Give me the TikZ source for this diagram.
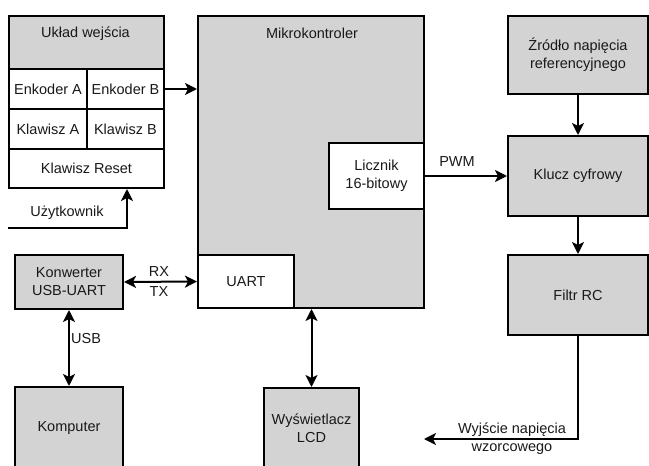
\documentclass[tikz,border=0pt]{standalone}
\usepackage{fontspec}
\setmainfont{Liberation Sans}
\usetikzlibrary{arrows.meta}
\definecolor{boxgray}{RGB}{211,211,211}
\definecolor{txt}{RGB}{25,25,25}
\begin{document}
\begin{tikzpicture}[x=1pt,y=-1pt,
  every node/.style={font=\fontsize{14.5}{18}\selectfont, text=txt},
  gbox/.style={draw, line width=2pt, fill=boxgray, inner sep=0pt, align=center, anchor=north west},
  wbox/.style={gbox, fill=white},
  lbl/.style={inner sep=0pt, align=center},
  arr/.style={line width=2pt, -{Stealth[length=12pt,width=12pt,inset=3pt]}},
  arrb/.style={line width=2pt, {Stealth[length=12pt,width=12pt,inset=3pt]}-{Stealth[length=12pt,width=12pt,inset=3pt]}}
]
\useasboundingbox (0,0) rectangle (649,466);

% input block
\node[gbox, minimum width=155pt, minimum height=53pt] (uklad) at (8,15) {};
\node[lbl] (ukladlbl) at (85.5,34) {Układ wejścia};
\node[wbox, minimum width=78pt, minimum height=40pt] (encA) at (8,68) {Enkoder A};
\node[wbox, minimum width=77pt, minimum height=40pt] (encB) at (86,68) {Enkoder B};
\node[wbox, minimum width=78pt, minimum height=40pt] (klA) at (8,108) {Klawisz A};
\node[wbox, minimum width=77pt, minimum height=40pt] (klB) at (86,108) {Klawisz B};
\node[wbox, minimum width=155pt, minimum height=39pt] (reset) at (8,148) {Klawisz Reset};

% microcontroller
\node[gbox, minimum width=226pt, minimum height=292pt] (mcu) at (197,15) {};
\node[lbl] (mculbl) at (312,33) {Mikrokontroler};
\node[wbox, minimum width=95pt, minimum height=66pt] (licz) at (328,142) {Licznik\\16-bitowy};
\node[wbox, minimum width=96pt, minimum height=53pt] (uart) at (197,254) {UART};

% right column
\node[gbox, minimum width=140pt, minimum height=78pt] (zrodlo) at (507,15) {Źródło napięcia\\referencyjnego};
\node[gbox, minimum width=140pt, minimum height=80pt] (klucz) at (507,135) {Klucz cyfrowy};
\node[gbox, minimum width=140pt, minimum height=80pt] (filtr) at (507,254) {Filtr RC};

% left bottom
\node[gbox, minimum width=108pt, minimum height=54pt] (konw) at (14,254) {Konwerter\\USB-UART};
\node[gbox, minimum width=108pt, minimum height=82pt] (komp) at (14,386) {Komputer};
\node[gbox, minimum width=95pt, minimum height=81pt] (lcd) at (263,387) {Wyświetlacz\\LCD};

% connectors
\draw[arr] (encB.east) -- (encB.east -| mcu.west);
\coordinate (user) at (8,228);
\draw[arr] (user) -| ([xshift=40.5pt]reset.south);
\node[lbl] (userlbl) at (67,213) {Użytkownik};

\draw[arr] (licz.east) -- (klucz.west);
\node[lbl] (pwm) at (457,162) {PWM};
\draw[arr] (zrodlo.south) -- (klucz.north);
\draw[arr] (klucz.south) -- (filtr.north);
\coordinate (out) at (424,439);
\draw[arr] (filtr.south) |- (out);
\node[lbl] (outlbl) at (512,438.5) {Wyjście napięcia\\[0pt]wzorcowego};

\draw[arrb] (konw.east) -- (uart.west);
\node[lbl] (rx) at (159,272) {RX};
\node[lbl] (tx) at (159,292) {TX};
\draw[arrb] (konw.south) -- (komp.north);
\node[lbl, anchor=west] (usb) at (71,339) {USB};
\draw[arrb] (lcd.north) -- (lcd.north |- mcu.south);
\end{tikzpicture}
\end{document}
